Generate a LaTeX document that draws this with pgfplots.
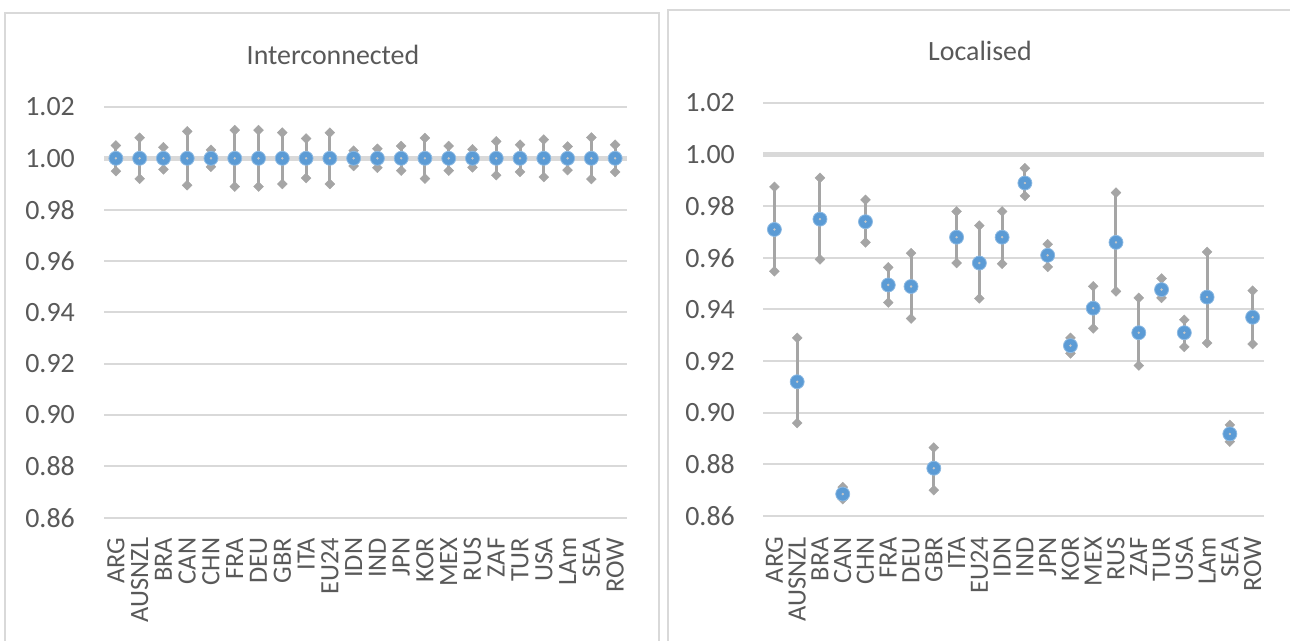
\documentclass[border=0pt]{standalone}
\usepackage{pgfplots}
\usepackage{pgfplotstable}
\pgfplotsset{compat=1.18}
\usepackage{fontspec}
\setmainfont{Carlito}
\definecolor{myblue}{HTML}{5B9BD5}
\definecolor{mygray}{HTML}{A5A5A5}
\definecolor{lgray}{HTML}{C8C8C8}
\definecolor{gridc}{HTML}{D9D9D9}
\definecolor{txt}{HTML}{595959}

\pgfplotstableread{
x name mean hi lo
0 ARG 1.000 1.0050 0.9950
1 AUSNZL 1.000 1.0080 0.9920
2 BRA 1.000 1.0043 0.9957
3 CAN 1.000 1.0105 0.9895
4 CHN 1.000 1.0033 0.9967
5 FRA 1.000 1.0110 0.9890
6 DEU 1.000 1.0110 0.9890
7 GBR 1.000 1.0100 0.9900
8 ITA 1.000 1.0077 0.9923
9 EU24 1.000 1.0100 0.9900
10 IDN 1.000 1.0030 0.9970
11 IND 1.000 1.0037 0.9963
12 JPN 1.000 1.0048 0.9952
13 KOR 1.000 1.0079 0.9921
14 MEX 1.000 1.0048 0.9952
15 RUS 1.000 1.0035 0.9965
16 ZAF 1.000 1.0066 0.9934
17 TUR 1.000 1.0053 0.9947
18 USA 1.000 1.0073 0.9927
19 LAm 1.000 1.0046 0.9954
20 SEA 1.000 1.0081 0.9919
21 ROW 1.000 1.0053 0.9947
}\inter

\pgfplotstableread{
x name mean hi lo
0 ARG 0.9710 0.9875 0.9548
1 AUSNZL 0.9120 0.9290 0.8960
2 BRA 0.9750 0.9910 0.9594
3 CAN 0.8685 0.8712 0.8665
4 CHN 0.9740 0.9825 0.9660
5 FRA 0.9495 0.9563 0.9427
6 DEU 0.9489 0.9618 0.9365
7 GBR 0.8785 0.8865 0.8700
8 ITA 0.9680 0.9780 0.9580
9 EU24 0.9580 0.9725 0.9443
10 IDN 0.9680 0.9780 0.9577
11 IND 0.9890 0.9947 0.9840
12 JPN 0.9610 0.9653 0.9565
13 KOR 0.9260 0.9290 0.9230
14 MEX 0.9405 0.9490 0.9327
15 RUS 0.9660 0.9853 0.9470
16 ZAF 0.9310 0.9445 0.9183
17 TUR 0.9477 0.9520 0.9445
18 USA 0.9310 0.9360 0.9255
19 LAm 0.9448 0.9623 0.9270
20 SEA 0.8918 0.8953 0.8888
21 ROW 0.9370 0.9473 0.9266
}\local

\pgfplotsset{
  panel/.style={
    scale only axis,
    anchor=south west,
    xmin=-0.5, xmax=21.5,
    ymin=0.86, ymax=1.02,
    ytick={0.86,0.88,...,1.021},
    xtick={0,...,21},
    xticklabels={ARG,AUSNZL,BRA,CAN,CHN,FRA,DEU,GBR,ITA,EU24,IDN,IND,JPN,KOR,MEX,RUS,ZAF,TUR,USA,LAm,SEA,ROW},
    axis line style={draw=none},
    major tick length=0pt,
    ymajorgrids,
    major grid style={gridc, line width=2bp},
    /pgf/number format/assume math mode=true,
    ticklabel style={text=txt, inner sep=0pt},
    yticklabel style={font=\fontsize{28}{30}\selectfont, /pgf/number format/.cd, fixed, fixed zerofill, precision=2},
    xticklabel style={rotate=90, anchor=east, font=\fontsize{26.5}{28}\selectfont},
    clip=false,
  },
  errs/.style={draw=none, mark=none, forget plot,
    error bars/.cd, y dir=both, y explicit,
    error bar style={draw=mygray, line width=3bp}, error mark=none},
  dia/.style={color=mygray, only marks, mark=square*, mark size=3.5bp,
    mark options={rotate=45, fill=mygray, draw=mygray}},
  dot/.style={color=myblue, only marks, mark=*, mark size=7bp,
    mark options={fill=myblue, draw=myblue!70!white, line width=0.8bp}},
  cdot/.style={color=lgray, only marks, mark=*, mark size=1.1bp,
    mark options={fill=lgray, draw=lgray, line width=0.2bp}},
}

\begin{document}
\begin{tikzpicture}[x=1bp,y=1bp]
\useasboundingbox (0,0) rectangle (1290,641);
\draw[gridc, line width=1.8bp] (5,-10) rectangle (659,628);
\draw[gridc, line width=1.8bp] (668,-10) rectangle (1300,631);
\node[text=txt, font=\fontsize{28}{30}\selectfont] at (333,586) {Interconnected};
\node[text=txt, font=\fontsize{28}{30}\selectfont] at (980,590) {Localised};

\begin{axis}[panel, at={(104bp,123.4bp)}, width=523bp, height=410.6bp,
  xticklabel shift=20bp, yticklabel shift=29bp]
\addplot[gridc, line width=5bp, forget plot] coordinates {(-0.5,1) (21.5,1)};
\addplot[errs] table[x=x, y=mean, y error plus expr=\thisrow{hi}-\thisrow{mean}, y error minus expr=\thisrow{mean}-\thisrow{lo}] {\inter};
\addplot[dia] table[x=x, y=hi] {\inter};
\addplot[dia] table[x=x, y=lo] {\inter};
\addplot[dot] table[x=x, y=mean] {\inter};
\addplot[cdot] table[x=x, y=mean] {\inter};
\end{axis}

\begin{axis}[panel, at={(763bp,125bp)}, width=501bp, height=413bp,
  xticklabel shift=21bp, yticklabel shift=28bp]
\addplot[gridc, line width=5bp, forget plot] coordinates {(-0.5,1) (21.5,1)};
\addplot[errs] table[x=x, y=mean, y error plus expr=\thisrow{hi}-\thisrow{mean}, y error minus expr=\thisrow{mean}-\thisrow{lo}] {\local};
\addplot[dia] table[x=x, y=hi] {\local};
\addplot[dia] table[x=x, y=lo] {\local};
\addplot[dot] table[x=x, y=mean] {\local};
\addplot[cdot] table[x=x, y=mean] {\local};
\end{axis}
\end{tikzpicture}
\end{document}
